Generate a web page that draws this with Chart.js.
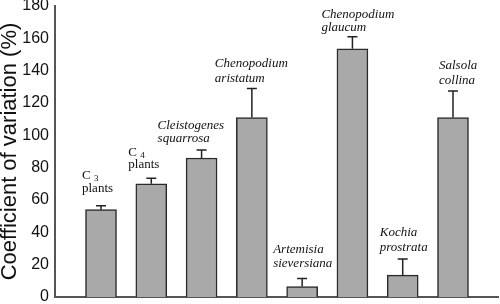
<!DOCTYPE html>
<html>
<head>
<meta charset="utf-8">
<script src="https://cdn.jsdelivr.net/npm/chart.js@4"></script>
<style>
  html, body { margin: 0; padding: 0; background: #fff; }
  #wrap { width: 500px; height: 304px; }
</style>
</head>
<body>
<div id="wrap"><canvas id="cvChart"></canvas></div>
<script>
// data
var species = ['C3 plants', 'C4 plants', 'Cleistogenes squarrosa', 'Chenopodium aristatum',
               'Artemisia sieversiana', 'Chenopodium glaucum', 'Kochia prostrata', 'Salsola collina'];
var cvMean = [54, 70, 86, 111, 6.5, 153.5, 13.5, 111];
var cvErr = [2.5, 3.5, 5, 18, 5, 7.5, 10, 16.5];
var yTicks = [0, 20, 40, 60, 80, 100, 120, 140, 160, 180];

// label lines drawn above each bar (italic for species names)
var labelLines = [['C|3', 'plants'], ['C|4', 'plants'], ['Cleistogenes', 'squarrosa'],
                  ['Chenopodium', 'aristatum'], ['Artemisia', 'sieversiana'],
                  ['Chenopodium', 'glaucum'], ['Kochia', 'prostrata'], ['Salsola', 'collina']];
var labelItalic = [false, false, true, true, true, true, true, true];
// placement of label blocks: x offset from bar centre, gap above error cap, line step (px)
var labelDx = [-19, -23, -44, -37, -29, -31, -23, -14];
var labelGap = [14, 10, 8, 6, 11, 6, 8, 7];
var labelStep = [13, 12, 13, 15, 14, 13, 15, 15];

var xPos = species.map(function (s, i) { return i + 1; });

var errorBars = {
    id: 'errorBars',
    afterDatasetsDraw: function (chart) {
        var ctx = chart.ctx;
        var xs = chart.scales.x, ys = chart.scales.y;
        ctx.save();
        ctx.strokeStyle = '#222';
        ctx.lineWidth = 1.5;
        cvMean.forEach(function (v, i) {
            var x = xs.getPixelForValue(xPos[i]);
            var yTop = ys.getPixelForValue(v);
            var yCap = ys.getPixelForValue(v + cvErr[i]);
            ctx.beginPath();
            ctx.moveTo(x, yTop);
            ctx.lineTo(x, yCap);
            ctx.moveTo(x - 5, yCap);
            ctx.lineTo(x + 5, yCap);
            ctx.stroke();
        });
        // labels
        ctx.fillStyle = '#111';
        ctx.textBaseline = 'alphabetic';
        labelLines.forEach(function (lines, i) {
            var x = xs.getPixelForValue(xPos[i]) + labelDx[i];
            var yBase = ys.getPixelForValue(cvMean[i] + cvErr[i]) - labelGap[i];
            var font = (labelItalic[i] ? 'italic ' : '') + '13px "Liberation Serif", "Times New Roman", serif';
            var n = lines.length;
            lines.forEach(function (t, k) {
                var y = yBase - (n - 1 - k) * labelStep[i];
                ctx.font = font;
                if (t.indexOf('|') >= 0) {
                    var parts = t.split('|');
                    ctx.fillText(parts[0], x, y);
                    var w = ctx.measureText(parts[0] + ' ').width;
                    ctx.font = '9px "Liberation Serif", serif';
                    ctx.fillText(parts[1], x + w, y + 2);
                } else {
                    ctx.fillText(t, x, y);
                }
            });
        });
        ctx.restore();
    }
};

var ctx = document.getElementById('cvChart').getContext('2d');
new Chart(ctx, {
    type: 'bar',
    data: {
        datasets: [{
            data: xPos.map(function (x, i) { return { x: x, y: cvMean[i] }; }),
            backgroundColor: '#a9a9a9',
            borderColor: '#2a2a2a',
            borderWidth: { top: 1.5, left: 1.5, right: 1.5, bottom: 0 },
            borderSkipped: 'bottom',
            barThickness: 31
        }]
    },
    options: {
        responsive: true,
        maintainAspectRatio: false,
        animation: false,
        layout: { padding: { top: 6, right: 2, bottom: 7, left: 0 } },
        plugins: {
            legend: { display: false },
            tooltip: { enabled: false }
        },
        scales: {
            x: {
                type: 'linear',
                offset: false,
                min: 0.085,
                max: 8.895,
                grid: { display: false, drawTicks: false },
                border: { color: '#555', width: 2 },
                ticks: { display: false }
            },
            y: {
                min: 0,
                max: 180,
                afterBuildTicks: function (scale) {
                    scale.ticks = yTicks.map(function (v) { return { value: v }; });
                },
                afterFit: function (scale) {
                    scale.width = 55;
                    scale.paddingTop = 0;
                    scale.paddingBottom = 0;
                },
                grid: { display: false, drawTicks: true, tickLength: 4, tickColor: '#555', tickWidth: 1.5 },
                border: { color: '#555', width: 2 },
                ticks: {
                    color: '#111',
                    padding: 2,
                    font: { family: '"Liberation Sans", Arial, sans-serif', size: 16 }
                },
                title: {
                    display: true,
                    text: 'Coefficient of variation (%)',
                    color: '#111',
                    padding: { top: 0, bottom: 0 },
                    font: { family: '"Liberation Sans", Arial, sans-serif', size: 22, lineHeight: 0.9 }
                }
            }
        }
    },
    plugins: [errorBars]
});
</script>
</body>
</html>
